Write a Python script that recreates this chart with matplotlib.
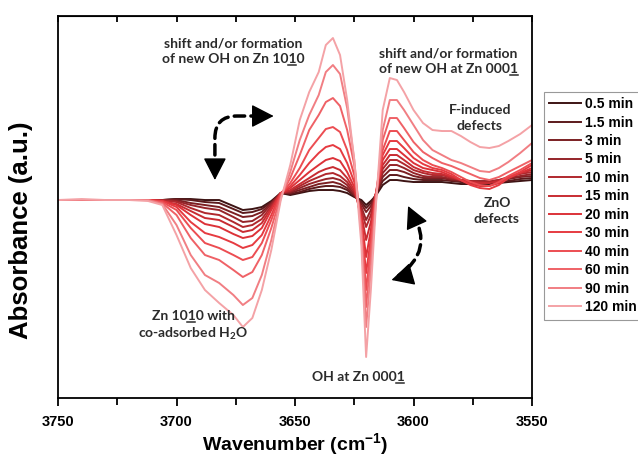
import numpy as np
import matplotlib
matplotlib.use("Agg")
import matplotlib.pyplot as plt
from matplotlib.patches import FancyArrowPatch
from matplotlib.lines import Line2D
from matplotlib.transforms import IdentityTransform

plt.rcParams["font.family"] = ["Liberation Sans", "DejaVu Sans"]
plt.rcParams["mathtext.fontset"] = "custom"
plt.rcParams["mathtext.rm"] = "Lato:bold"
plt.rcParams["mathtext.bf"] = "Lato:bold"

# wavenumber grid (cm-1), shared by all spectra
wavenumber = [3750, 3740, 3730, 3720, 3712, 3706, 3700, 3694, 3688, 3682,
              3676, 3672, 3668, 3664, 3660, 3656, 3652, 3648, 3644, 3640,
              3637, 3634, 3631, 3628, 3625, 3622, 3620, 3618, 3616, 3613,
              3610, 3607, 3604, 3600, 3596, 3592, 3588, 3584, 3580, 3576,
              3572, 3568, 3564, 3560, 3555, 3550]

# difference absorbance, units of 1e-3 a.u.
a_0p5 = [0, 0, 0, 0, 0, 0, 1, 1, 0, 0, -6, -10, -9, -7, -1, 7, 5, 7, 9, 10,
         10, 10, 9, 7, 3, 0, -5, -1, 4, 15, 20, 20, 19, 18, 18, 18, 18, 17,
         16, 16, 16, 16, 17, 18, 19, 20]
a_1p5 = [0, 0, 0, 0, 0, 0, 1, 0, -2, -3, -9, -13, -12, -9, -2, 7, 6, 8, 11,
         13, 14, 14, 13, 10, 4, -2, -8, -3, 5, 19, 25, 25, 23, 21, 20, 20, 20,
         19, 18, 17, 17, 17, 18, 19, 21, 22]
a_3 = [0, 0, 0, 0, 0, 0, 0, -3, -5, -7, -13, -17, -16, -12, -3, 7, 7, 10, 13,
       16, 17, 18, 16, 12, 5, -4, -12, -6, 5, 23, 30, 30, 28, 24, 22, 22, 22,
       20, 19, 18, 18, 18, 19, 21, 23, 24]
a_5 = [0, 0, 0, 0, 0, 0, -1, -5, -8, -10, -17, -22, -21, -15, -4, 7, 8, 12,
       16, 19, 21, 22, 20, 15, 6, -7, -20, -10, 5, 27, 35, 35, 32, 27, 24, 23,
       23, 21, 20, 19, 19, 19, 20, 22, 24, 26]
a_10 = [0, 0, 0, 0, 0, 0, -2, -8, -13, -15, -22, -27, -25, -19, -6, 7, 9, 14,
        19, 23, 26, 27, 24, 18, 8, -10, -27, -15, 5, 31, 40, 40, 36, 30, 27,
        25, 25, 22, 20, 19, 18, 18, 20, 23, 26, 28]
a_15 = [0, 0, 0, 0, 0, -1, -4, -11, -18, -20, -27, -32, -30, -23, -8, 7, 10,
        16, 22, 28, 31, 33, 30, 22, 10, -14, -40, -22, 5, 35, 45, 45, 40, 33,
        29, 27, 26, 23, 20, 18, 17, 17, 19, 23, 27, 30]
a_20 = [0, 0, 0, 0, 0, -1, -5, -15, -24, -27, -34, -38, -36, -28, -10, 7, 12,
        20, 28, 35, 40, 42, 39, 28, 13, -18, -57, -30, 5, 40, 51, 51, 45, 37,
        32, 30, 28, 24, 20, 16, 14, 14, 17, 22, 27, 32]
a_30 = [0, 0, 0, 0, 0, -1, -7, -22, -33, -37, -43, -48, -45, -35, -15, 7, 14,
        25, 37, 47, 53, 55, 51, 37, 18, -22, -73, -38, 5, 45, 59, 59, 52, 42,
        36, 32, 30, 26, 20, 15, 12, 11, 15, 22, 28, 35]
a_40 = [0, 0, 0, 0, 0, -2, -10, -28, -43, -48, -55, -60, -57, -43, -20, 6, 17,
        32, 50, 62, 71, 73, 68, 50, 25, -25, -90, -45, 5, 50, 69, 69, 60, 48,
        40, 35, 32, 28, 23, 18, 15, 14, 18, 24, 30, 37]
a_60 = [0, 0, 0, 0, 0, -3, -15, -38, -55, -60, -70, -77, -72, -55, -28, 4, 22,
        45, 70, 85, 98, 102, 94, 70, 35, -30, -107, -55, 0, 60, 82, 82, 72, 58,
        48, 42, 37, 34, 30, 26, 22, 20, 23, 28, 34, 40]
a_90 = [0, 0, 0, 0, 0, -4, -25, -55, -75, -83, -95, -105, -98, -75, -40, 2,
        28, 60, 85, 105, 128, 135, 126, 92, 40, -35, -127, -70, -5, 70, 100,
        100, 90, 75, 60, 50, 45, 40, 37, 33, 29, 28, 32, 38, 47, 57]
a_120 = [0, 1, 0, 0, -1, -5, -35, -68, -90, -103, -115, -127, -118, -90, -50,
         0, 35, 80, 108, 128, 155, 162, 145, 100, 40, -45, -157, -90, -10, 90,
         122, 120, 108, 90, 77, 70, 69, 69, 64, 58, 53, 52, 54, 59, 66, 75]

times = ["0.5 min", "1.5 min", "3 min", "5 min", "10 min", "15 min",
         "20 min", "30 min", "40 min", "60 min", "90 min", "120 min"]
spectra = [a_0p5, a_1p5, a_3, a_5, a_10, a_15, a_20, a_30, a_40, a_60, a_90,
           a_120]
colors = ["#3d1414", "#5c1a1c", "#7b1f22", "#952429", "#b0282d", "#c82c32",
          "#dc3238", "#e63b41", "#ec4d52", "#ef6166", "#f17e83", "#f4a2a6"]

fig = plt.figure(figsize=(6.38, 4.58), dpi=100)
ax = fig.add_axes([0.0909, 0.131, 0.743, 0.834])

wn = np.array(wavenumber)
for label, vals, c in zip(times, spectra, colors):
    ax.plot(wn, np.array(vals) / 1000.0, color=c, lw=1.4, label=label)

ax.set_xlim(3750, 3550)
ax.set_ylim(-0.198, 0.184)
ax.set_xticks([3750, 3700, 3650, 3600, 3550])
ax.set_xticks([3725, 3675, 3625, 3575], minor=True)
ax.set_yticks([])
ax.tick_params(axis="x", which="major", direction="out", length=6, width=1.3,
               labelsize=10.5, top=False, pad=6)
ax.tick_params(axis="x", which="minor", direction="out", length=5, width=1.3,
               top=False)
for lbl in ax.get_xticklabels():
    lbl.set_fontweight("bold")
for sp in ax.spines.values():
    sp.set_linewidth(1.3)

# inward ticks along the top edge
top = ax.secondary_xaxis("top")
top.set_xticks([3750, 3725, 3700, 3675, 3650, 3625, 3600, 3575, 3550])
top.tick_params(direction="in", length=4, width=1.3, labeltop=False)

ax.set_xlabel("Wavenumber (cm$^{\\mathregular{-1}}$)", fontsize=14,
              fontweight="bold", labelpad=2)
ax.set_ylabel("Absorbance (a.u.)", fontsize=18.5, fontweight="bold")
ax.yaxis.set_label_coords(-0.052, 0.44)

note = dict(fontsize=10, fontweight="bold", color="#2b2b2b",
            family=["Lato", "DejaVu Sans"],
            ha="center", va="center", linespacing=1.35)
t1 = ax.text(3676.2, 0.1490, "shift and/or formation\nof new OH on Zn 1010",
             **note)
t2 = ax.text(3585.4, 0.139, "shift and/or formation\nof new OH at Zn 0001",
             **note)
ax.text(3572, 0.082, "F-induced\ndefects", **note)
ax.text(3564.8, -0.011, "ZnO\ndefects", **note)
t3 = ax.text(3693, -0.126, "Zn 1010 with\nco-adsorbed H$_2$O", **note)
t4 = ax.text(3623.4, -0.177, "OH at Zn 0001", **note)


def underline_char(txt, line_no, idx):
    # short rule under one character of a (possibly multi-line) text
    renderer = fig.canvas.get_renderer()
    _, info, _ = txt._get_layout(renderer)
    posx, posy = txt.get_transform().transform(txt.get_position())
    line, _, lx, ly = info[line_no]
    prop = txt.get_fontproperties()
    w0 = renderer.get_text_width_height_descent(line[:idx], prop, ismath=False)[0]
    w1 = renderer.get_text_width_height_descent(line[:idx + 1], prop, ismath=False)[0]
    yb = posy + ly - 2
    fig.add_artist(Line2D([posx + lx + w0, posx + lx + w1], [yb, yb],
                          transform=IdentityTransform(), lw=1.1,
                          color=txt.get_color()))


underline_char(t1, 1, 18)
underline_char(t2, 1, 19)
underline_char(t3, 0, 5)
underline_char(t4, 0, 12)

# dashed arrow bodies, solid heads drawn separately
body_kw = dict(arrowstyle="-", linestyle=(0, (3, 1.8)), lw=2.5,
               color="black", shrinkA=6, shrinkB=6)
head_kw = dict(arrowstyle="-|>,head_length=0.7,head_width=0.36",
               mutation_scale=20, lw=1, color="black", shrinkA=0, shrinkB=0)

ax.add_patch(FancyArrowPatch((3683.8, 0.020), (3659.0, 0.084),
                             connectionstyle="angle,angleA=90,angleB=0,rad=22",
                             **body_kw))
ax.add_patch(FancyArrowPatch((3683.8, 0.032), (3683.8, 0.020), **head_kw))
ax.add_patch(FancyArrowPatch((3663.0, 0.084), (3659.0, 0.084), **head_kw))

ax.add_patch(FancyArrowPatch((3602.3, -0.006), (3609.3, -0.080),
                             connectionstyle="arc3,rad=-0.55", **body_kw))
ax.add_patch(FancyArrowPatch((3600.4, -0.016), (3602.3, -0.006), **head_kw))
ax.add_patch(FancyArrowPatch((3604.9, -0.077), (3609.3, -0.080), **head_kw))

leg = fig.legend(loc="upper left", bbox_to_anchor=(0.852, 0.800),
                 prop={"weight": "bold", "size": 10},
                 handlelength=2.3, handletextpad=0.3, labelspacing=0.32,
                 borderpad=0.4, borderaxespad=0, fancybox=False,
                 edgecolor="#999999", framealpha=1)
leg.get_frame().set_linewidth(0.8)

fig.savefig("out.png", dpi=100)
